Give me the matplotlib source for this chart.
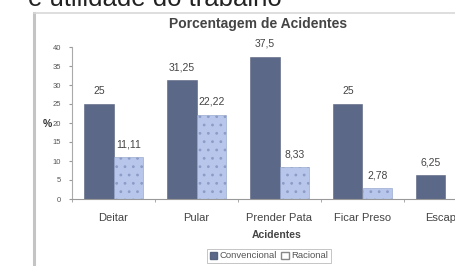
import matplotlib
matplotlib.use("Agg")
import matplotlib.pyplot as plt
import numpy as np
from matplotlib.patches import Patch
from matplotlib.lines import Line2D

plt.rcParams['font.family'] = ['Liberation Sans', 'DejaVu Sans']
plt.rcParams['hatch.color'] = '#7282b4'
plt.rcParams['hatch.linewidth'] = 0.8

categories = ["Deitar", "Pular", "Prender Pata", "Ficar Preso", "Escapar"]
convencional = [25, 31.25, 37.5, 25, 6.25]
racional = [11.11, 22.22, 8.33, 2.78, 0]
conv_labels = ["25", "31,25", "37,5", "25", "6,25"]
rac_labels = ["11,11", "22,22", "8,33", "2,78", "0"]
yticks = [0, 5, 10, 15, 20, 25, 30, 35, 40]

W, H = 455, 266
fig = plt.figure(figsize=(W / 100, H / 100), dpi=100)
fig.patch.set_facecolor('white')

# text of document above the chart (cut off)
fig.text(28 / W, 1 - 6 / H, "e utilidade do trabalho", fontsize=18.5, color='#222222',
         va='baseline', ha='left')

# chart area frame
fig.add_artist(Line2D([34 / W, 34 / W], [0, 1 - 13 / H], transform=fig.transFigure,
                      color='#c4c4c4', lw=2.2))
fig.add_artist(Line2D([34 / W, 1], [1 - 13 / H, 1 - 13 / H], transform=fig.transFigure,
                      color='#d8d8d8', lw=1.2))

x0, x1 = 72, 487
ytop, ybot = 47, 199
ax = fig.add_axes([x0 / W, (H - ybot) / H, (x1 - x0) / W, (ybot - ytop) / H])
ax.set_facecolor('none')

x = np.arange(len(categories))
bw = 0.355
ax.bar(x - bw / 2, convencional, width=bw, color='#5c6887', edgecolor='#56627f', lw=0.4)
ax.bar(x + bw / 2, racional, width=bw, color='#b7c6ea', edgecolor='#8c9cc6', lw=0.4,
       hatch='..')

for xi, v, lab in zip(x, convencional, conv_labels):
    ax.text(xi - bw / 2, v + 2.0, lab, ha='center', va='bottom', fontsize=7.5, color='#444444')
for xi, v, lab in zip(x, racional, rac_labels):
    ax.text(xi + bw / 2, v + 2.0, lab, ha='center', va='bottom', fontsize=7.5, color='#444444')

ax.set_xlim(-0.5, len(categories) - 0.5)
ax.set_ylim(0, 40)
ax.set_yticks(yticks)
ax.set_yticklabels([str(t) for t in yticks], fontsize=5.5, color='#555555')
ax.set_xticks(x)
ax.set_xticklabels(categories, fontsize=8, color='#444444')
ax.set_xticks(np.arange(len(categories) + 1) - 0.5, minor=True)
ax.tick_params(axis='x', which='major', length=0, pad=10)
ax.tick_params(axis='x', which='minor', length=2, color='#999999')
ax.tick_params(axis='y', length=2, color='#999999', pad=6)
for s in ['top', 'right']:
    ax.spines[s].set_visible(False)
ax.spines['left'].set_color('#aaaaaa')
ax.spines['bottom'].set_color('#999999')
ax.spines['left'].set_linewidth(0.8)
ax.spines['bottom'].set_linewidth(0.8)

fig.text(258 / W, 1 - 24 / H, "Porcentagem de Acidentes", fontsize=10, fontweight='bold',
         color='#444444', ha='center', va='center')
fig.text(47 / W, 1 - 124 / H, "%", fontsize=7.5, fontweight='bold', color='#333333',
         ha='center', va='center')
fig.text(277 / W, 1 - 235 / H, "Acidentes", fontsize=7.5, fontweight='bold',
         color='#444444', ha='center', va='center')

handles = [Patch(facecolor='#5c6887', edgecolor='#56627f', label='Convencional'),
           Patch(facecolor='white', edgecolor='#888888', label='Racional')]
leg = fig.legend(handles=handles, loc='center', bbox_to_anchor=(269 / W, 1 - 256 / H),
                 ncol=2, fontsize=6.8, frameon=True, fancybox=False, handlelength=0.8,
                 handleheight=0.8, handletextpad=0.3, columnspacing=0.4,
                 borderpad=0.3, labelcolor='#555555')
leg.get_frame().set_edgecolor('#aaaaaa')
leg.get_frame().set_linewidth(0.6)

fig.savefig("out.png", dpi=100)
